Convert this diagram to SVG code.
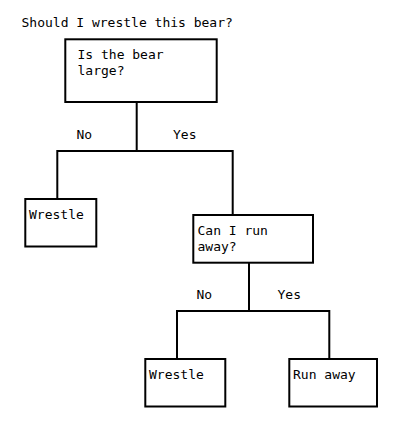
<svg xmlns="http://www.w3.org/2000/svg" width="406" height="430" viewBox="0 0 406 430">
<style>
text{font-family:"DejaVu Sans Mono","Liberation Mono",monospace;font-size:13px;fill:#000}
.box{fill:#fff;stroke:#000;stroke-width:2}
.c{fill:none;stroke:#000;stroke-width:2}
</style>
<rect width="406" height="430" fill="#fff"/>
<text x="21.5" y="26.5">Should I wrestle this bear?</text>
<g id="connectors">
<path class="c" d="M136.7,102 V151 M57.3,151 H232.7 M57.3,150 V199 M232.7,150 V215"/>
<path class="c" d="M249,263 V311 M177,311 H329.3 M177,310 V359 M329.3,310 V359"/>
<text x="76.5" y="139">No</text>
<text x="173" y="139">Yes</text>
<text x="196.5" y="299">No</text>
<text x="277.5" y="299">Yes</text>
</g>
<g id="n1">
<rect class="box" x="65.3" y="39.3" width="151.4" height="62.7"/>
<text x="77.5" y="58.5">Is the bear</text>
<text x="77.5" y="74.5">large?</text>
</g>
<g id="n2">
<rect class="box" x="25.3" y="199" width="71" height="47.5"/>
<text x="29" y="219">Wrestle</text>
</g>
<g id="n3">
<rect class="box" x="193.3" y="215" width="119.7" height="47.7"/>
<text x="197.5" y="235">Can I run</text>
<text x="197.5" y="251">away?</text>
</g>
<g id="n4">
<rect class="box" x="145.3" y="359" width="80" height="47.5"/>
<text x="149" y="379">Wrestle</text>
</g>
<g id="n5">
<rect class="box" x="289.3" y="359" width="87.7" height="47.5"/>
<text x="293" y="379">Run away</text>
</g>
</svg>
